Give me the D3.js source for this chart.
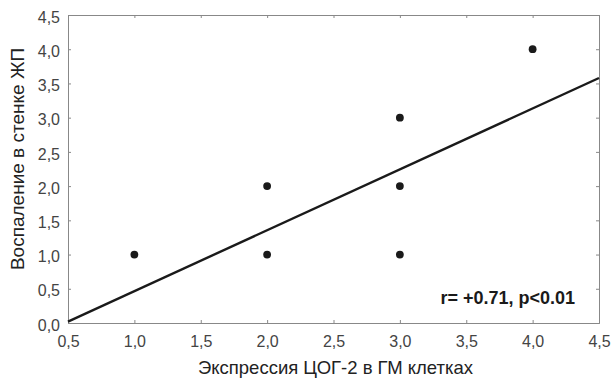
<!DOCTYPE html>
<html>
<head>
<meta charset="utf-8">
<script src="https://cdn.jsdelivr.net/npm/d3@7"></script>
<style>
  body { margin: 0; background: #fff; }
  text { font-family: "Liberation Sans", Arial, sans-serif; }
  .tick text { fill: #444; font-size: 16px; }
  .axis path, .axis line { stroke: #888; }
</style>
</head>
<body>
<svg id="chart"></svg>
<script>
"use strict";
// points (ЦОГ-2 expression vs inflammation)
const xVals = [1, 2, 2, 3, 3, 3, 4];
const yVals = [1, 2, 1, 3, 2, 1, 4];
// fitted line end points
const fitX = [0.5, 4.5];
const fitY = [0.02, 3.58];
const xTicks = [0.5, 1, 1.5, 2, 2.5, 3, 3.5, 4, 4.5];
const yTicks = [0, 0.5, 1, 1.5, 2, 2.5, 3, 3.5, 4, 4.5];
const xTitle = "Экспрессия ЦОГ-2 в ГМ клетках";
const yTitle = "Воспаление в стенке ЖП";
const note = "r= +0.71, p<0.01";

const margin = {top: 15, right: 12, bottom: 57, left: 68},
    width  = 611 - margin.left - margin.right,
    height = 380 - margin.top - margin.bottom;

const svg = d3.select("#chart")
        .attr("width", 611)
        .attr("height", 380)
    .append("g")
        .attr("transform", "translate(" + margin.left + "," + margin.top + ")");

const xScale = d3.scaleLinear().domain([0.5, 4.5]).range([0, width]);
const yScale = d3.scaleLinear().domain([0, 4.5]).range([height, 0]);
const fmt = d => d3.format(".1f")(d).replace(".", ",");

// axes with inner ticks on all four sides
svg.append("g").classed("axis", true)
    .attr("transform", `translate(0, ${height})`)
    .call(d3.axisBottom(xScale).tickValues(xTicks).tickSize(-3).tickPadding(13).tickFormat(fmt));
svg.append("g").classed("axis", true)
    .call(d3.axisLeft(yScale).tickValues(yTicks).tickSize(-3).tickPadding(8).tickFormat(fmt))
    .selectAll(".tick text").attr("dy", "0.45em");
svg.append("g").classed("axis", true)
    .call(d3.axisTop(xScale).tickValues(xTicks).tickSize(-3).tickFormat(""));
svg.append("g").classed("axis", true)
    .attr("transform", `translate(${width}, 0)`)
    .call(d3.axisRight(yScale).tickValues(yTicks).tickSize(-3).tickFormat(""));

// regression line
const line = d3.line().x(d => xScale(d[0])).y(d => yScale(d[1]));
svg.append("path")
    .datum(fitX.map((x, i) => [x, fitY[i]]))
    .attr("d", line)
    .attr("fill", "none")
    .attr("stroke", "#1a1a1a")
    .attr("stroke-width", 2.4);

// points
svg.selectAll(".pt")
    .data(xVals.map((x, i) => [x, yVals[i]]))
  .enter().append("circle")
    .attr("class", "pt")
    .attr("cx", d => xScale(d[0]))
    .attr("cy", d => yScale(d[1]))
    .attr("r", 3.9)
    .attr("fill", "#1a1a1a");

// annotation
svg.append("text")
    .attr("x", width - 24)
    .attr("y", height - 19)
    .attr("text-anchor", "end")
    .style("font-size", "18px")
    .style("font-weight", "bold")
    .attr("fill", "#1a1a1a")
    .text(note);

// axis titles
svg.append("text")
    .attr("x", width / 2 + 2)
    .attr("y", height + 51)
    .attr("text-anchor", "middle")
    .style("font-size", "18.5px")
    .attr("fill", "#222")
    .text(xTitle);
svg.append("text")
    .attr("transform", "rotate(-90)")
    .attr("x", -(159 - margin.top))
    .attr("y", -margin.left + 24)
    .attr("text-anchor", "middle")
    .style("font-size", "19px")
    .attr("fill", "#222")
    .text(yTitle);
</script>
</body>
</html>
